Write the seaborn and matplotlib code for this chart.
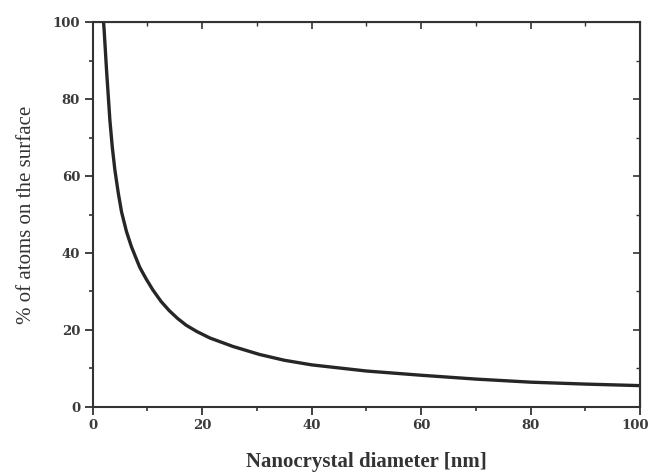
# Surface atoms fraction vs nanocrystal diameter

import pandas as pd
import matplotlib
matplotlib.use("Agg")
import matplotlib.pyplot as plt
from matplotlib.ticker import MultipleLocator
import seaborn as sns

# values
diameter = [2.0, 2.1, 2.55, 3.16, 3.6, 4.07, 4.7, 5.3, 6.2, 7.1, 8.6, 9.8,
            11.0, 12.5, 14.0, 15.5, 17.1, 19.0, 21.4, 25.6, 30.5, 35.0,
            40.0, 50.0, 60.0, 70.0, 80.0, 90.0, 100.0]
surface_pct = [100.0, 98.2, 87.5, 74.5, 67.5, 61.6, 55.5, 50.6, 45.5, 41.6,
               36.3, 33.2, 30.4, 27.4, 25.0, 23.0, 21.2, 19.6, 17.9, 15.7,
               13.6, 12.1, 10.9, 9.3, 8.2, 7.2, 6.4, 5.9, 5.5]

x_ticks = [0, 20, 40, 60, 80, 100]
y_ticks = [0, 20, 40, 60, 80, 100]

df = pd.DataFrame({"diameter": diameter, "surface": surface_pct})

sns.set_style("ticks")
plt.rcParams["font.family"] = ["Liberation Serif", "DejaVu Serif"]

fig = plt.figure(figsize=(6.52, 4.73), dpi=100)
ax = fig.add_axes([0.142, 0.14, 0.84, 0.813])

sns.lineplot(data=df, x="diameter", y="surface", ax=ax, color="#262626",
             linewidth=2.4, sort=False)

ax.set_xlim(0, 100)
ax.set_ylim(0, 100)
tick_font = dict(family="DejaVu Serif", size=9.5, weight="bold", color="#3a3a3a")
# the last x label sits on the figure edge, it is drawn separately below
ax.set_xticks(x_ticks, [str(t) for t in x_ticks[:-1]] + [""], **tick_font)
ax.set_yticks(y_ticks, [str(t) for t in y_ticks], **tick_font)
ax.xaxis.set_minor_locator(MultipleLocator(10))
ax.yaxis.set_minor_locator(MultipleLocator(10))
ax.annotate(str(x_ticks[-1]), xy=(x_ticks[-1], 0),
            xycoords=("data", "axes fraction"), xytext=(-4, -8.6),
            textcoords="offset points", ha="center", va="top", **tick_font)

for s in ax.spines.values():
    s.set_linewidth(1.5)
    s.set_color("#333333")
    s.set_visible(True)

ax.tick_params(which="major", direction="out", length=6, width=1.3,
               color="#333333", pad=3)
ax.tick_params(which="minor", direction="out", length=3, width=1.2,
               color="#333333")

# inward ticks on top and right
top = ax.secondary_xaxis("top")
top.xaxis.set_major_locator(MultipleLocator(20))
top.xaxis.set_minor_locator(MultipleLocator(10))
top.tick_params(which="major", direction="in", length=5, width=1.2,
                color="#333333", labeltop=False)
top.tick_params(which="minor", direction="in", length=3, width=1.0,
                color="#333333")
right = ax.secondary_yaxis("right")
right.yaxis.set_major_locator(MultipleLocator(20))
right.yaxis.set_minor_locator(MultipleLocator(10))
right.tick_params(which="major", direction="in", length=5, width=1.2,
                  color="#333333", labelright=False)
right.tick_params(which="minor", direction="in", length=3, width=1.0,
                  color="#333333")

ax.set_xlabel("Nanocrystal diameter [nm]", fontsize=15, fontweight="bold",
              color="#333333", labelpad=14)
ax.set_ylabel("% of atoms on the surface", fontsize=15, color="#333333",
              labelpad=12)

fig.savefig("out.png", dpi=100)
